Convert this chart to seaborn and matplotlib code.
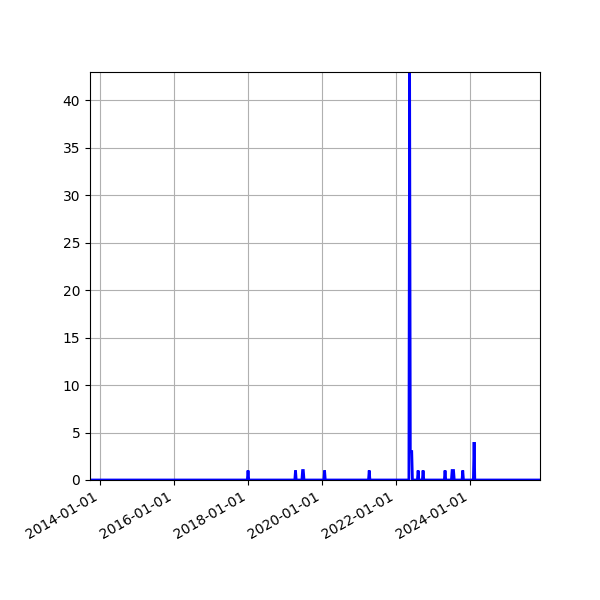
#weekly counts, mostly zero with a few spikes

import numpy as np
import pandas as pd
import seaborn as sns
import matplotlib
matplotlib.use('Agg')
import matplotlib.pyplot as plt
import matplotlib.dates as mdates

#data
start_date = '2013-09-23'
end_date = '2025-11-24'
event_dates = ['2018-01-01', '2019-04-15', '2019-06-24', '2019-07-01',
               '2020-01-27', '2021-04-12',
               '2022-05-16', '2022-05-23', '2022-05-30', '2022-06-06',
               '2022-08-08', '2022-09-26',
               '2023-05-01', '2023-07-10', '2023-07-17', '2023-07-24',
               '2023-10-23', '2024-02-12']
event_values = [1, 1, 1, 1,
                1, 1,
                43, 3, 3, 3,
                1, 1,
                1, 1, 1, 1,
                1, 4]

weeks = pd.date_range(start_date, end_date, freq='W-MON')
counts = pd.Series(0.0, index=weeks)
counts[pd.to_datetime(event_dates)] = event_values

fig, ax = plt.subplots(figsize=(6, 6), dpi=100)
sns.lineplot(x=counts.index, y=counts.values, color='blue', lw=2,
             solid_joinstyle='miter', ax=ax)
ax.set_xlim(weeks[0], weeks[-1])
ax.set_ylim(0, 43)
ax.set_xlabel('')
ax.set_ylabel('')
ax.xaxis.set_major_locator(mdates.YearLocator(2))
ax.xaxis.set_major_formatter(mdates.DateFormatter('%Y-%m-%d'))
ax.grid(True)
fig.autofmt_xdate()
fig.subplots_adjust(left=0.15, right=0.9, top=0.88, bottom=0.2)
plt.savefig('out.png', dpi=100)
